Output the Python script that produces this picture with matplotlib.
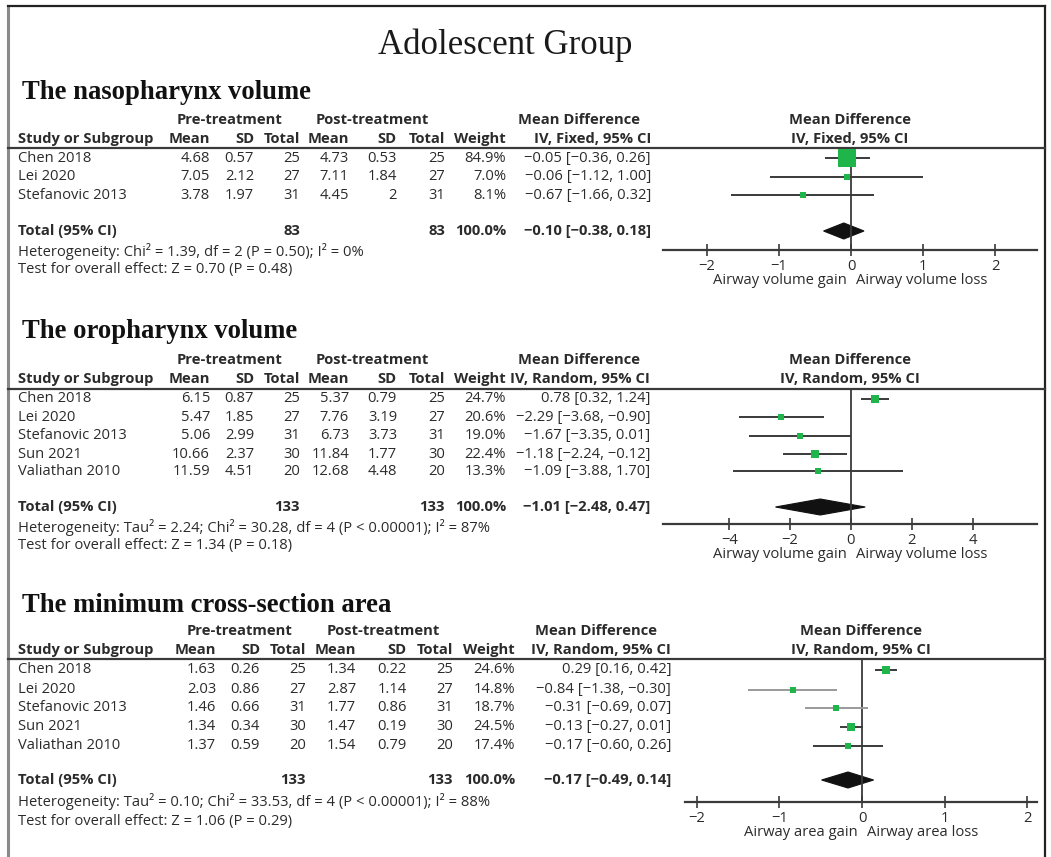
import matplotlib
matplotlib.use("Agg")
import matplotlib.pyplot as plt
from matplotlib.patches import Polygon

# ---------------------------------------------------------------- data
studies3 = ["Chen 2018", "Lei 2020", "Stefanovic 2013"]
studies5 = ["Chen 2018", "Lei 2020", "Stefanovic 2013", "Sun 2021", "Valiathan 2010"]

# Nasopharynx volume
naso_pre_mean = [4.68, 7.05, 3.78]
naso_pre_sd = [0.57, 2.12, 1.97]
naso_pre_n = [25, 27, 31]
naso_post_mean = [4.73, 7.11, 4.45]
naso_post_sd = [0.53, 1.84, 2]
naso_post_n = [25, 27, 31]
naso_weight = [84.9, 7.0, 8.1]
naso_md = [-0.05, -0.06, -0.67]
naso_lo = [-0.36, -1.12, -1.66]
naso_hi = [0.26, 1.00, 0.32]
naso_total = [-0.10, -0.38, 0.18]
naso_n_total = [83, 83]
naso_het = "Heterogeneity: Chi\u00b2 = 1.39, df = 2 (P = 0.50); I\u00b2 = 0%"
naso_test = "Test for overall effect: Z = 0.70 (P = 0.48)"

# Oropharynx volume
oro_pre_mean = [6.15, 5.47, 5.06, 10.66, 11.59]
oro_pre_sd = [0.87, 1.85, 2.99, 2.37, 4.51]
oro_pre_n = [25, 27, 31, 30, 20]
oro_post_mean = [5.37, 7.76, 6.73, 11.84, 12.68]
oro_post_sd = [0.79, 3.19, 3.73, 1.77, 4.48]
oro_post_n = [25, 27, 31, 30, 20]
oro_weight = [24.7, 20.6, 19.0, 22.4, 13.3]
oro_md = [0.78, -2.29, -1.67, -1.18, -1.09]
oro_lo = [0.32, -3.68, -3.35, -2.24, -3.88]
oro_hi = [1.24, -0.90, 0.01, -0.12, 1.70]
oro_total = [-1.01, -2.48, 0.47]
oro_n_total = [133, 133]
oro_het = ("Heterogeneity: Tau\u00b2 = 2.24; Chi\u00b2 = 30.28, df = 4 "
           "(P < 0.00001); I\u00b2 = 87%")
oro_test = "Test for overall effect: Z = 1.34 (P = 0.18)"

# Minimum cross-section area
area_pre_mean = [1.63, 2.03, 1.46, 1.34, 1.37]
area_pre_sd = [0.26, 0.86, 0.66, 0.34, 0.59]
area_pre_n = [25, 27, 31, 30, 20]
area_post_mean = [1.34, 2.87, 1.77, 1.47, 1.54]
area_post_sd = [0.22, 1.14, 0.86, 0.19, 0.79]
area_post_n = [25, 27, 31, 30, 20]
area_weight = [24.6, 14.8, 18.7, 24.5, 17.4]
area_md = [0.29, -0.84, -0.31, -0.13, -0.17]
area_lo = [0.16, -1.38, -0.69, -0.27, -0.60]
area_hi = [0.42, -0.30, 0.07, 0.01, 0.26]
area_total = [-0.17, -0.49, 0.14]
area_n_total = [133, 133]
area_het = ("Heterogeneity: Tau\u00b2 = 0.10; Chi\u00b2 = 33.53, df = 4 "
            "(P < 0.00001); I\u00b2 = 88%")
area_test = "Test for overall effect: Z = 1.06 (P = 0.29)"

naso_ticks = [-2, -1, 0, 1, 2]
oro_ticks = [-4, -2, 0, 2, 4]
area_ticks = [-2, -1, 0, 1, 2]

# ---------------------------------------------------------------- style
W, H = 1051, 857
SANS = ["Open Sans", "DejaVu Sans"]
SERIF = ["Liberation Serif", "DejaVu Serif"]
FS = 10.6
INK = "#2b2b2b"
GREEN = "#1fb54a"
LINE = "#3a3a3a"

fig = plt.figure(figsize=(W / 100, H / 100), dpi=100)
page = fig.add_axes([0, 0, 1, 1])
page.set_xlim(0, W)
page.set_ylim(H, 0)
page.axis("off")

# frame
page.plot([8, 8], [6, H], color="#8a8a8a", lw=2.2, solid_capstyle="butt")
page.plot([8, 1045], [6, 6], color="#222222", lw=1.6)
page.plot([1045, 1045], [6, H], color="#222222", lw=1.6)

page.text(505, 45, "Adolescent Group", family=SERIF, fontsize=25,
          ha="center", va="center", color="#1a1a1a")


def num(v):
    return f"{v:g}".replace("-", "\u2212")


def ci(md, lo, hi):
    s = f"{md:.2f} [{lo:.2f}, {hi:.2f}]"
    return s.replace("-", "\u2212")


def txt(x, y, s, ha="right", bold=False, size=FS):
    page.text(x, y, s, family=SANS, fontsize=size, ha=ha, va="center",
              color=INK, fontweight="bold" if bold else "normal")


def section(title, title_y, lay, cols, names, table, weight, md, lo, hi,
            total, n_total, model, het, test, ticks, xlim, fx, zero_px,
            k_sq, label_gain, label_loss, ci_greys=None):
    (hdr1, hdr2, rule, rows, tot_y, het_y, test_y, axis_y, lab_y) = lay
    (c_right, pre_c, post_c, md_c, right_c) = cols
    page.text(22, title_y, title, family=SERIF, fontsize=19.2,
              fontweight="bold", ha="left", va="center", color="#111111")
    # header
    txt(pre_c, hdr1, "Pre-treatment", ha="center", bold=True)
    txt(post_c, hdr1, "Post-treatment", ha="center", bold=True)
    txt(md_c, hdr1, "Mean Difference", ha="center", bold=True)
    txt(right_c, hdr1, "Mean Difference", ha="center", bold=True)
    txt(18, hdr2, "Study or Subgroup", ha="left", bold=True)
    heads = ["Mean", "SD", "Total", "Mean", "SD", "Total", "Weight",
             f"IV, {model}, 95% CI"]
    for x, h in zip(c_right, heads):
        txt(x, hdr2, h, bold=True)
    txt(right_c, hdr2, f"IV, {model}, 95% CI", ha="center", bold=True)
    page.plot([8, 1045], [rule, rule], color=LINE, lw=1.6)
    # study rows
    pm, psd, pn, qm, qsd, qn = table
    for i, nm in enumerate(names):
        y = rows[i]
        txt(18, y, nm, ha="left")
        vals = [num(pm[i]), num(psd[i]), str(pn[i]), num(qm[i]),
                num(qsd[i]), str(qn[i]), f"{weight[i]:.1f}%",
                ci(md[i], lo[i], hi[i])]
        for x, v in zip(c_right, vals):
            txt(x, y, v)
    # total row
    txt(18, tot_y, "Total (95% CI)", ha="left", bold=True)
    txt(c_right[2], tot_y, str(n_total[0]), bold=True)
    txt(c_right[5], tot_y, str(n_total[1]), bold=True)
    txt(c_right[6], tot_y, "100.0%", bold=True)
    txt(c_right[7], tot_y, ci(*total), bold=True)
    txt(18, het_y, het, ha="left")
    txt(18, test_y, test, ha="left")

    # forest panel: x in mean-difference units, y in page pixels
    x0, x1 = fx
    fa = fig.add_axes([x0 / W, 1 - axis_y / H, (x1 - x0) / W,
                       (axis_y - rule) / H])
    fa.set_xlim(*xlim)
    fa.set_ylim(axis_y, rule)
    fa.patch.set_alpha(0)
    for s in ("top", "left", "right"):
        fa.spines[s].set_visible(False)
    fa.spines["bottom"].set_color(LINE)
    fa.spines["bottom"].set_linewidth(1.6)
    fa.set_yticks([])
    fa.set_xticks(ticks)
    fa.tick_params(axis="x", direction="inout", length=8, width=1.2,
                   color=LINE, labelsize=FS, labelcolor=INK, pad=2.5)
    for lab in fa.get_xticklabels():
        lab.set_family(SANS)
    fa.axvline(0, color=LINE, lw=1.3)
    for i in range(len(names)):
        g = LINE if ci_greys is None else ci_greys[i]
        fa.plot([lo[i], hi[i]], [rows[i], rows[i]], color=g, lw=1.4,
                solid_capstyle="butt")
        side = k_sq * weight[i] ** 0.5
        fa.plot([md[i]], [rows[i]], marker="s", ms=side * 0.72,
                color=GREEN, mec=GREEN, mew=0, ls="none")
    m, l, h = total
    dh = 8
    fa.add_patch(Polygon([(l, tot_y), (m, tot_y - dh), (h, tot_y),
                          (m, tot_y + dh)], closed=True, fc="#111111",
                         ec="#111111", lw=0.8))
    txt(zero_px - 4, lab_y, label_gain, ha="right")
    txt(zero_px + 5, lab_y, label_loss, ha="left")


# nasopharynx
section("The nasopharynx volume", 92,
        (120, 139, 148, [158, 176.5, 195], 231, 251, 270, 250, 281),
        ([210, 254, 300, 349, 397, 445, 506, 651], 230, 372, 579, 850),
        studies3,
        (naso_pre_mean, naso_pre_sd, naso_pre_n, naso_post_mean,
         naso_post_sd, naso_post_n),
        naso_weight, naso_md, naso_lo, naso_hi, naso_total,
        naso_n_total, "Fixed", naso_het, naso_test, naso_ticks,
        (-2.604, 2.576), (663, 1037), 851, 1.95,
        "Airway volume gain", "Airway volume loss")

# oropharynx
section("The oropharynx volume", 331,
        (360, 379, 389, [398.5, 417, 435.5, 454, 471], 507, 527, 545,
         524, 554),
        ([210, 254, 300, 349, 397, 445, 506, 650], 230, 372, 579, 850),
        studies5,
        (oro_pre_mean, oro_pre_sd, oro_pre_n, oro_post_mean, oro_post_sd,
         oro_post_n),
        oro_weight, oro_md, oro_lo, oro_hi, oro_total,
        oro_n_total, "Random", oro_het, oro_test, oro_ticks,
        (-6.18, 6.12), (663, 1037), 851, 1.5,
        "Airway volume gain", "Airway volume loss")

# minimum cross-section area
section("The minimum cross-section area", 606,
        (631, 650, 659, [669.5, 689.5, 707.5, 726.5, 745.5], 780, 802, 821,
         802, 832),
        ([216, 260, 306, 356, 407, 453, 515, 671], 239, 383, 596, 861),
        studies5,
        (area_pre_mean, area_pre_sd, area_pre_n, area_post_mean,
         area_post_sd, area_post_n),
        area_weight, area_md, area_lo, area_hi, area_total,
        area_n_total, "Random", area_het, area_test, area_ticks,
        (-2.145, 2.12), (685, 1037), 862, 1.55,
        "Airway area gain", "Airway area loss",
        ci_greys=[LINE, "#9a9a9a", "#9a9a9a", LINE, LINE])

fig.savefig("out.png", dpi=100)
